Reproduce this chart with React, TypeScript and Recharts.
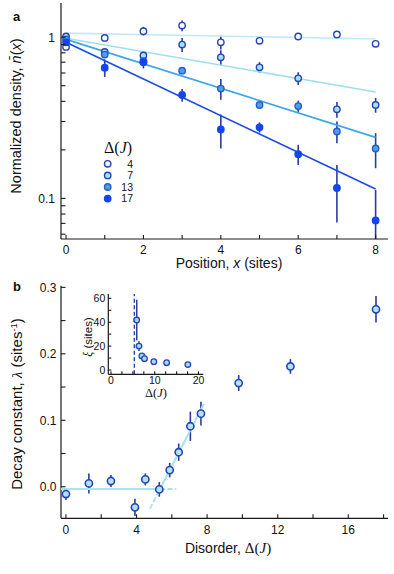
import React from 'react';
import { ComposedChart, Scatter, XAxis, YAxis, ErrorBar, ReferenceLine } from 'recharts';

// ---------- Panel a data ----------
const positions = [0, 1, 2, 3, 4, 5, 6, 7, 8];
const disorderLevels = ['4', '7', '13', '17'];
const density4 = [0.87, 0.99, 1.09, 1.18, 0.93, 0.95, 1.01, 1.04, 0.91];
const err4 = [0.03, 0.02, 0.07, 0.09, 0.09, 0.04, 0.02, 0.02, 0.02];
const density7 = [1.01, 0.81, 0.77, 0.9, 0.75, 0.65, 0.556, 0.357, 0.38];
const err7 = [0.03, 0.02, 0.03, 0.09, 0.08, 0.05, 0.05, 0.04, 0.04];
const density13 = [0.97, 0.78, 0.71, 0.62, 0.48, 0.38, 0.374, 0.26, 0.204];
const err13 = [0.03, 0.03, 0.03, 0.02, 0.07, 0.02, 0.03, 0.04, 0.05];
const density17 = [0.93, 0.647, 0.7, 0.438, 0.268, 0.276, 0.188, 0.116, 0.073];
const err17 = [0.03, 0.08, 0.06, 0.04, 0.064, 0.02, 0.027, 0.045, 0.04];
const fitAmplitude = [1.06, 0.985, 0.97, 0.93];
const fitDecay = [0.0105, 0.096, 0.175, 0.262];
const logTicks = [0.06, 0.07, 0.08, 0.09, 0.1, 0.2, 0.3, 0.4, 0.5, 0.6, 0.7, 0.8, 0.9, 1];

// ---------- Panel b data ----------
const disorder = [0, 1.3, 2.55, 3.91, 4.5, 5.29, 5.88, 6.39, 7.05, 7.65, 9.79, 12.72, 17.57];
const decay = [-0.011, 0.005, 0.0086, -0.031, 0.011, -0.004, 0.025, 0.052, 0.091, 0.11, 0.156, 0.181, 0.267];
const decayErr = [0.009, 0.015, 0.009, 0.013, 0.009, 0.011, 0.011, 0.013, 0.022, 0.018, 0.012, 0.011, 0.02];
const plateau = -0.0035;
const criticalDisorder = 5.33;
const riseSlope = 0.0516;
const plateauEnd = 6.25;
const riseStart = 4.76;
const riseEnd = 7.82;
const disorderTicks = [0, 2, 4, 6, 8, 10, 12, 14, 16, 18];
const decayTicks = [0, 0.05, 0.1, 0.15, 0.2, 0.25, 0.3];

// ---------- Inset data ----------
const locDisorder = [5.88, 6.39, 7.05, 7.65, 9.79, 12.72, 17.57];
const locLength = [41.8, 20, 11.7, 9.5, 7, 6.1, 4.5];
const locErr = [17, 4, 2, 1.5, 0.8, 0.6, 0.5];
const insetXTicks = [0, 2.5, 5, 7.5, 10, 12.5, 15, 17.5, 20];
const insetYTicks = [0, 10, 20, 30, 40, 50, 60];

// ---------- styles ----------
const SANS = '"Liberation Sans", Arial, Helvetica, sans-serif';
const SERIF = '"Liberation Serif", "DejaVu Serif", serif';
const AX = '#1a1a1a';
const TXT = '#111111';
const ERR = '#2a3b9c';
const seriesStyle = [
  { fill: '#ffffff', stroke: '#2445b5', line: '#c2eaf5' },
  { fill: '#a6e0f4', stroke: '#2445b5', line: '#9fdff1' },
  { fill: '#45a3e8', stroke: '#2a5bc8', line: '#3ea6e8' },
  { fill: '#1446ee', stroke: '#1446ee', line: '#1b4ce6' },
];
const FIT_B = '#a6e4f2';

const densities = [density4, density7, density13, density17];
const errors = [err4, err7, err13, err17];

const A_Y_DOMAIN: [number, number] = [0.056, 1.63];

const makeTick = (side: 'bottom' | 'left', len: number, fmt: (v: number) => string, fs: number, gap: number) =>
  (props: any) => {
    const { x, y, payload } = props;
    const lab = fmt(payload.value);
    if (side === 'bottom') {
      return (
        <g>
          <line x1={x} x2={x} y1={y} y2={y - len} stroke={AX} strokeWidth={1.1} />
          {lab ? (
            <text x={x} y={y + gap} textAnchor="middle" fontSize={fs} fontFamily={SANS} fill={TXT}>{lab}</text>
          ) : null}
        </g>
      );
    }
    return (
      <g>
        <line x1={x} x2={x + len} y1={y} y2={y} stroke={AX} strokeWidth={1.1} />
        {lab ? (
          <text x={x - gap} y={y + fs * 0.36} textAnchor="end" fontSize={fs} fontFamily={SANS} fill={TXT}>{lab}</text>
        ) : null}
      </g>
    );
  };

const noShape = () => <g />;
const dot = (r: number, fill: string, stroke: string, sw: number) => (p: any) =>
  <circle cx={p.cx} cy={p.cy} r={r} fill={fill} stroke={stroke} strokeWidth={sw} />;

const frameLine = { stroke: AX, strokeWidth: 1.2 };

const LEG_Y0 = 163.8;
const LEG_DY = 11.6;

const PanelAText = () => (
  <g fontFamily={SANS} fill={TXT}>
    <text x={13} y={21} fontSize={13} fontWeight="bold">a</text>
    <text transform="translate(21,116) rotate(-90)" textAnchor="middle" fontSize={14.5}>
      Normalized density, <tspan fontStyle="italic">n̄</tspan>(<tspan fontStyle="italic">x</tspan>)
    </text>
    <text x={229} y={268} textAnchor="middle" fontSize={14}>
      Position, <tspan fontStyle="italic">x</tspan> (sites)
    </text>
    <text x={104} y={153} fontFamily={SERIF} fontSize={16}>
      Δ(<tspan fontStyle="italic">J</tspan>)
    </text>
    {disorderLevels.map((lv, i) => (
      <g key={lv}>
        <circle cx={107.7} cy={LEG_Y0 + i * LEG_DY} r={3.2} fill={seriesStyle[i].fill} stroke={seriesStyle[i].stroke} strokeWidth={1.4} />
        <text x={133} y={LEG_Y0 + i * LEG_DY + 3.8} textAnchor="end" fontSize={10.5}>{lv}</text>
      </g>
    ))}
  </g>
);

const PanelBText = () => (
  <g fontFamily={SANS} fill={TXT}>
    <text x={13} y={11} fontSize={13} fontWeight="bold">b</text>
    <text transform="translate(22,124) rotate(-90)" textAnchor="middle" fontSize={15}>
      Decay constant, <tspan fontFamily={SERIF} fontStyle="italic">λ</tspan> (sites<tspan fontSize={9.5} dy={-5}>-1</tspan><tspan dy={5}>)</tspan>
    </text>
    <text x={228} y={273} textAnchor="middle" fontSize={14}>
      Disorder, <tspan fontFamily={SERIF} fontSize={15}>Δ(</tspan><tspan fontFamily={SERIF} fontSize={15} fontStyle="italic">J</tspan><tspan fontFamily={SERIF} fontSize={15}>)</tspan>
    </text>
  </g>
);

const InsetText = () => (
  <g fill={TXT}>
    <text transform="translate(22,49) rotate(-90)" textAnchor="middle" fontSize={11.5} fontFamily={SANS}>
      <tspan fontFamily={SERIF} fontStyle="italic">ξ</tspan> (sites)
    </text>
    <text x={86} y={109} textAnchor="middle" fontSize={12.5} fontFamily={SERIF}>
      Δ(<tspan fontStyle="italic">J</tspan>)
    </text>
  </g>
);

export default function App() {
  const fitLines = fitAmplitude.map((a, i) =>
    [positions[0], positions[positions.length - 1]].map((x) => ({ x, y: a * Math.exp(-fitDecay[i] * x) }))
  );
  // asymmetric bars, lower end kept inside the plotted range of the log axis
  const seriesData = densities.map((d, i) =>
    positions.map((x, j) => {
      const e = errors[i][j];
      const lo = Math.min(e, d[j] - A_Y_DOMAIN[0]);
      return { x, y: d[j], e: [lo, e] };
    })
  );

  const bData = disorder.map((x, i) => ({ x, y: decay[i], e: decayErr[i] }));
  const bDomainX: [number, number] = [-0.28, 18.25];
  const riseAt = (x: number) => plateau + riseSlope * (x - criticalDisorder);
  const plateauSolid = [{ x: bDomainX[0], y: plateau }, { x: criticalDisorder, y: plateau }];
  const plateauDash = [{ x: criticalDisorder, y: plateau }, { x: plateauEnd, y: plateau }];
  const riseDash = [{ x: riseStart, y: riseAt(riseStart) }, { x: criticalDisorder, y: plateau }];
  const riseSolid = [{ x: criticalDisorder, y: plateau }, { x: riseEnd, y: riseAt(riseEnd) }];

  const insetData = locDisorder.map((x, i) => ({ x, y: locLength[i], e: locErr[i] }));

  return (
    <div style={{ position: 'absolute', left: 0, top: 0, width: 394, height: 574, background: '#fff' }}>
      {/* Panel a */}
      <div style={{ position: 'absolute', left: 0, top: 0 }}>
        <ComposedChart width={394} height={280} margin={{ top: 3, right: 6, bottom: 11, left: 0 }}>
          <XAxis
            type="number" dataKey="x" domain={[-0.13, 8.32]} allowDataOverflow ticks={positions} interval={0}
            height={30} tickSize={0} tickMargin={0} tickLine={false} axisLine={frameLine}
            tick={makeTick('bottom', 4, (v) => (v % 2 === 0 ? String(v) : ''), 12, 14.5)}
          />
          <XAxis xAxisId="top" orientation="top" type="number" domain={[0, 1]} height={0} tick={false} tickLine={false} axisLine={frameLine} />
          <YAxis
            type="number" dataKey="y" scale="log" domain={A_Y_DOMAIN} allowDataOverflow ticks={logTicks} interval={0}
            width={61} tickSize={0} tickMargin={0} tickLine={false} axisLine={frameLine}
            tick={makeTick('left', 4.5, (v) => (v === 1 ? '1' : v === 0.1 ? '0.1' : ''), 12, 6)}
            label={PanelAText}
          />
          <YAxis yAxisId="right" orientation="right" type="number" domain={[0, 1]} width={0} tick={false} tickLine={false} axisLine={frameLine} />
          {fitLines.map((fl, i) => (
            <Scatter key={'fit' + i} data={fl} line={{ stroke: seriesStyle[i].line, strokeWidth: 1.7 }} shape={noShape} isAnimationActive={false} />
          ))}
          {seriesData.map((sd, i) => (
            <Scatter key={'s' + i} data={sd} shape={dot(3.2, seriesStyle[i].fill, seriesStyle[i].stroke, 1.4)} isAnimationActive={false}>
              <ErrorBar dataKey="e" direction="y" width={0} stroke={ERR} strokeWidth={1.6} />
            </Scatter>
          ))}
        </ComposedChart>
      </div>

      {/* Panel b */}
      <div style={{ position: 'absolute', left: 0, top: 280 }}>
        <ComposedChart width={394} height={294} margin={{ top: 5.7, right: 6, bottom: 25.7, left: 0 }}>
          <XAxis
            type="number" dataKey="x" domain={bDomainX} allowDataOverflow ticks={disorderTicks} interval={0}
            height={30} tickSize={0} tickMargin={0} tickLine={false} axisLine={frameLine}
            tick={makeTick('bottom', 4, (v) => (v % 4 === 0 ? String(v) : ''), 12, 15.3)}
          />
          <XAxis xAxisId="top" orientation="top" type="number" domain={[0, 1]} height={0} tick={false} tickLine={false} axisLine={frameLine} />
          <YAxis
            type="number" dataKey="y" domain={[-0.0475, 0.3025]} allowDataOverflow ticks={decayTicks} interval={0}
            width={61} tickSize={0} tickMargin={0} tickLine={false} axisLine={frameLine}
            tick={makeTick('left', 4.5, (v) => (Math.abs(v * 10 - Math.round(v * 10)) < 1e-6 ? v.toFixed(1) : ''), 12, 4.5)}
            label={PanelBText}
          />
          <YAxis yAxisId="right" orientation="right" type="number" domain={[0, 1]} width={0} tick={false} tickLine={false} axisLine={frameLine} />
          <Scatter data={plateauSolid} line={{ stroke: FIT_B, strokeWidth: 2 }} shape={noShape} isAnimationActive={false} />
          <Scatter data={plateauDash} line={{ stroke: FIT_B, strokeWidth: 2, strokeDasharray: '5 2.5' }} shape={noShape} isAnimationActive={false} />
          <Scatter data={riseDash} line={{ stroke: FIT_B, strokeWidth: 2, strokeDasharray: '5 2.5' }} shape={noShape} isAnimationActive={false} />
          <Scatter data={riseSolid} line={{ stroke: FIT_B, strokeWidth: 2 }} shape={noShape} isAnimationActive={false} />
          <Scatter data={bData} shape={dot(3.6, '#b3e1f6', '#2445b5', 1.6)} isAnimationActive={false}>
            <ErrorBar dataKey="e" direction="y" width={0} stroke={ERR} strokeWidth={1.6} />
          </Scatter>
        </ComposedChart>
      </div>

      {/* Inset */}
      <div style={{ position: 'absolute', left: 70, top: 288 }}>
        <ComposedChart width={140} height={115} margin={{ top: 6, right: 6.7, bottom: 5, left: 0 }}>
          <XAxis
            type="number" dataKey="x" domain={[-0.62, 21.1]} allowDataOverflow ticks={insetXTicks} interval={0}
            height={23.7} tickSize={0} tickMargin={0} tickLine={false} axisLine={frameLine}
            tick={makeTick('bottom', 3, (v) => (v % 10 === 0 ? String(v) : ''), 10.5, 9.2)}
          />
          <XAxis xAxisId="top" orientation="top" type="number" domain={[0, 1]} height={0} tick={false} tickLine={false} axisLine={frameLine} />
          <YAxis
            type="number" dataKey="y" domain={[-3.6, 63.6]} allowDataOverflow ticks={insetYTicks} interval={0}
            width={38.3} tickSize={0} tickMargin={0} tickLine={false} axisLine={frameLine}
            tick={makeTick('left', 3, (v) => (v % 20 === 0 ? String(v) : ''), 10.5, 3)}
            label={InsetText}
          />
          <YAxis yAxisId="right" orientation="right" type="number" domain={[0, 1]} width={0} tick={false} tickLine={false} axisLine={frameLine} />
          <ReferenceLine x={criticalDisorder} stroke="#2445b5" strokeWidth={1.4} strokeDasharray="4 2.5" />
          <Scatter data={insetData} shape={dot(2.8, '#a9d9f2', '#2445b5', 1.3)} isAnimationActive={false}>
            <ErrorBar dataKey="e" direction="y" width={0} stroke={ERR} strokeWidth={1.5} />
          </Scatter>
        </ComposedChart>
      </div>
    </div>
  );
}
